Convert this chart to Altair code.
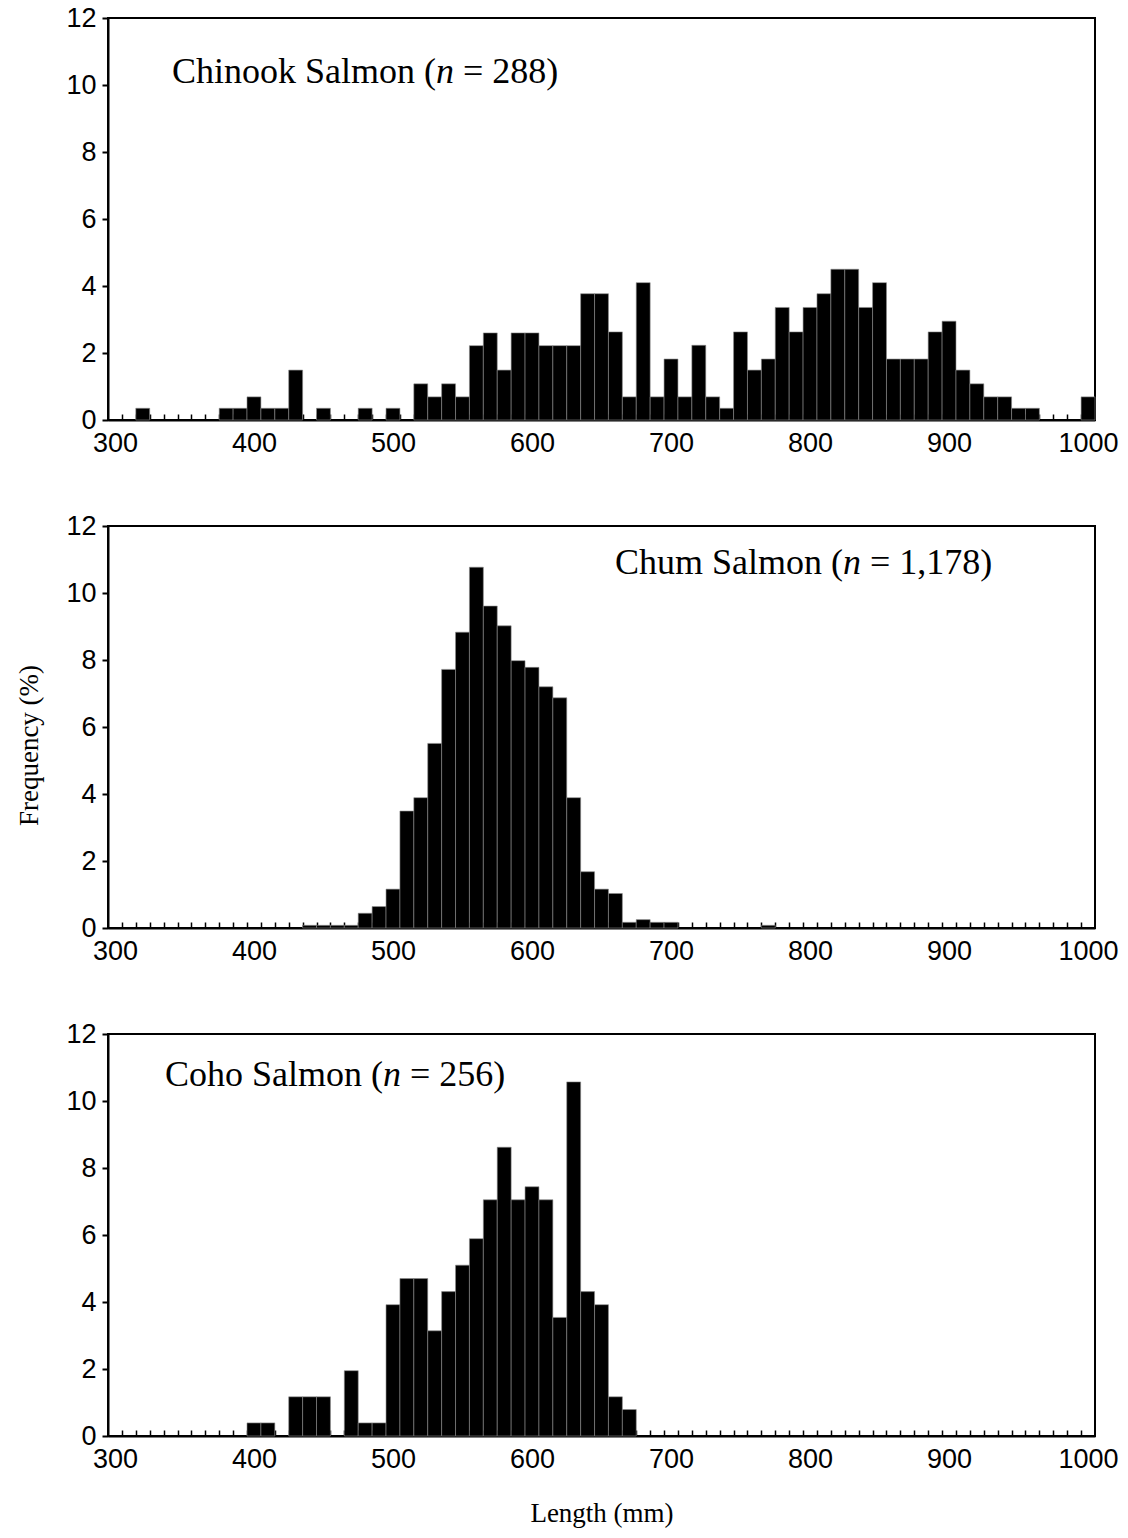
import altair as alt
import pandas as pd

# ---------------- data ----------------
chinook_len = [320, 380, 390, 400, 410, 420, 430, 450, 480, 500,
               520, 530, 540, 550, 560, 570, 580, 590, 600, 610,
               620, 630, 640, 650, 660, 670, 680, 690, 700, 710,
               720, 730, 740, 750, 760, 770, 780, 790, 800, 810,
               820, 830, 840, 850, 860, 870, 880, 890, 900, 910,
               920, 930, 940, 950, 960, 1000]
chinook_pct = [0.35, 0.35, 0.35, 0.69, 0.35, 0.35, 1.49, 0.35, 0.35, 0.35,
               1.08, 0.69, 1.08, 0.69, 2.22, 2.60, 1.49, 2.60, 2.60, 2.22,
               2.22, 2.22, 3.77, 3.77, 2.63, 0.69, 4.10, 0.69, 1.82, 0.69,
               2.23, 0.69, 0.35, 2.63, 1.49, 1.82, 3.36, 2.63, 3.36, 3.77,
               4.50, 4.50, 3.36, 4.10, 1.82, 1.82, 1.82, 2.63, 2.95, 1.49,
               1.08, 0.69, 0.69, 0.35, 0.35, 0.69]

chum_len = [440, 450, 460, 470, 480, 490, 500, 510, 520, 530,
            540, 550, 560, 570, 580, 590, 600, 610, 620, 630,
            640, 650, 660, 670, 680, 690, 700, 770]
chum_pct = [0.08, 0.08, 0.08, 0.08, 0.44, 0.64, 1.16, 3.49, 3.89, 5.51,
            7.72, 8.83, 10.77, 9.61, 9.02, 7.98, 7.78, 7.20, 6.87, 3.89,
            1.68, 1.16, 1.03, 0.17, 0.25, 0.17, 0.17, 0.08]

coho_len = [400, 410, 430, 440, 450, 470, 480, 490, 500, 510,
            520, 530, 540, 550, 560, 570, 580, 590, 600, 610,
            620, 630, 640, 650, 660, 670]
coho_pct = [0.39, 0.39, 1.17, 1.17, 1.17, 1.95, 0.39, 0.39, 3.92, 4.70,
            4.70, 3.14, 4.31, 5.10, 5.89, 7.05, 8.62, 7.05, 7.44, 7.05,
            3.54, 10.57, 4.31, 3.92, 1.17, 0.79]

length_bins = list(range(300, 1001, 10))
x_tick_labels = [300, 400, 500, 600, 700, 800, 900, 1000]
y_tick_labels = [0, 2, 4, 6, 8, 10, 12]

species = ["Chinook Salmon", "Chum Salmon", "Coho Salmon"]
sample_sizes = ["288", "1,178", "256"]

# ---------------- style ----------------
W, H = 987, 402
SANS = "Liberation Sans"
SERIF = "Liberation Serif"
LABEL_SIZE = 27
ANNO_SIZE = 36
TITLE_SIZE = 27

# Times-compatible advance widths (per 1000 em) for label layout
TW = {" ": 250, "(": 333, ")": 333, "=": 564, ",": 250, "C": 667, "S": 556,
      "a": 444, "h": 500, "i": 278, "k": 500, "l": 278, "m": 778, "n": 500,
      "o": 500, "u": 500}
for d in "0123456789":
    TW[d] = 500


def tw(s, size):
    return sum(TW.get(c, 500) for c in s) * size / 1000.0


boundaries = [b + 5 for b in length_bins[:-1]]
x_scale = alt.Scale(domain=[length_bins[0] - 5, length_bins[-1] + 5], nice=False, zero=False)
y_scale = alt.Scale(domain=[0, 12], nice=False)


def panel(lengths, pct, idx, tx, ty, ytitle=False, xtitle=False):
    df = pd.DataFrame({"length": lengths, "pct": pct})
    x_axis = alt.Axis(
        values=x_tick_labels, format="d", ticks=False, grid=False, domainColor="black",
        domainWidth=2, labelFont=SANS, labelFontSize=LABEL_SIZE, labelColor="black",
        labelPadding=10, labelFlush=False,
        title="Length (mm)" if xtitle else None,
        titleFont=SERIF, titleFontSize=TITLE_SIZE, titleFontWeight="normal",
        titleColor="black", titlePadding=28,
    )
    y_axis_kwargs = dict(
        values=y_tick_labels, grid=False, domainColor="black", domainWidth=2,
        tickColor="black", tickWidth=2, tickSize=6,
        labelFont=SANS, labelFontSize=LABEL_SIZE, labelColor="black", labelPadding=6,
    )
    if ytitle:
        y_axis = alt.Axis(title="Frequency (%)", titleFont=SERIF, titleFontSize=TITLE_SIZE,
                          titleFontWeight="normal", titleColor="black", titleX=-79,
                          titleY=219, titleAngle=270, titleAlign="center",
                          titleBaseline="middle", **y_axis_kwargs)
    else:
        y_axis = alt.Axis(title=None, **y_axis_kwargs)

    bars = alt.Chart(df).transform_calculate(
        lo="datum.length - 5", hi="datum.length + 5"
    ).mark_bar(color="black", stroke="#8c8c8c", strokeWidth=0.6).encode(
        x=alt.X("lo:Q", scale=x_scale, axis=x_axis),
        x2="hi:Q",
        y=alt.Y("pct:Q", scale=y_scale, axis=y_axis),
        y2=alt.datum(0),
    )

    tick_df = pd.DataFrame({"b": boundaries})
    minor = alt.Chart(tick_df).mark_point(opacity=0).encode(
        x=alt.X("b:Q", scale=x_scale, axis=alt.Axis(
            orient="top", values=boundaries, labels=False, domain=False,
            ticks=True, tickSize=6, tickColor="black", tickWidth=1.5,
            offset=-H, grid=False, title=None)),
    )

    t1 = species[idx] + " ("
    t3 = "= " + sample_sizes[idx] + ")"
    x1 = tx
    x2 = x1 + tw(t1, ANNO_SIZE)
    x3 = x2 + tw("n ", ANNO_SIZE)
    anno_df = pd.DataFrame({"a": [t1], "b": ["n"], "c": [t3]})
    base_t = alt.Chart(anno_df)
    p1 = base_t.mark_text(font=SERIF, fontSize=ANNO_SIZE, align="left", baseline="alphabetic",
                          color="black").encode(x=alt.value(x1), y=alt.value(ty), text="a:N")
    p2 = base_t.mark_text(font=SERIF, fontSize=ANNO_SIZE, fontStyle="italic", align="left",
                          baseline="alphabetic", color="black").encode(
        x=alt.value(x2), y=alt.value(ty), text="b:N")
    p3 = base_t.mark_text(font=SERIF, fontSize=ANNO_SIZE, align="left", baseline="alphabetic",
                          color="black").encode(x=alt.value(x3), y=alt.value(ty), text="c:N")

    return alt.layer(bars, minor, p1, p2, p3).resolve_axis(x="independent").properties(
        width=W, height=H)


c1 = panel(chinook_len, chinook_pct, 0, 64, 65)
c2 = panel(chum_len, chum_pct, 1, 507, 48, ytitle=True)
c3 = panel(coho_len, coho_pct, 2, 57, 52, xtitle=True)

chart = alt.vconcat(c1, c2, c3, spacing=106, bounds="flush").properties(
    padding={"top": 3, "left": 14, "right": 2, "bottom": 2},
    background="white",
).configure_view(stroke="black", strokeWidth=2)

chart.save("out.html", embed_options={"renderer": "svg", "actions": False})
